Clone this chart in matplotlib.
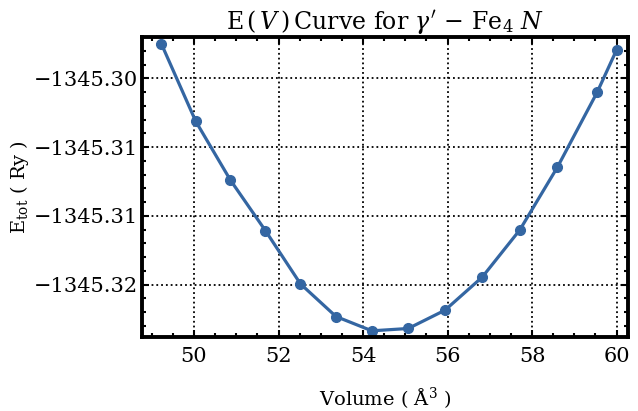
import matplotlib
matplotlib.use("Agg")
import matplotlib.pyplot as plt
from matplotlib.ticker import MultipleLocator, FuncFormatter

# volume (A^3) and total energy (Ry)
volume = [49.23, 50.04, 50.86, 51.69, 52.52, 53.36, 54.21,
          55.07, 55.94, 56.82, 57.71, 58.60, 59.54, 60.00]
energy = [-1345.29751, -1345.30312, -1345.30739, -1345.31107, -1345.31494,
          -1345.31731, -1345.31835, -1345.31818, -1345.31685, -1345.31445,
          -1345.31102, -1345.30646, -1345.30102, -1345.29794]

plt.rcParams['font.family'] = 'DejaVu Serif'
plt.rcParams['mathtext.fontset'] = 'dejavuserif'

fig = plt.figure(figsize=(6.38, 4.11), dpi=100)
ax = fig.add_axes([0.2226, 0.18, 0.7617, 0.73])

ax.plot(volume, energy, '-o', color='#3466a2', lw=2.3, ms=7)

ax.set_xlim(48.77, 60.27)
ax.set_ylim(-1345.3188, -1345.2970)
ax.xaxis.set_major_locator(MultipleLocator(2))
ax.xaxis.set_minor_locator(MultipleLocator(0.5))
ax.yaxis.set_major_locator(MultipleLocator(0.005))
ax.yaxis.set_minor_locator(MultipleLocator(0.001))
ax.yaxis.set_major_formatter(FuncFormatter(lambda v, p: ('%.2f' % v).replace('-', '\u2212')))

ax.tick_params(which='both', direction='in', top=True, right=True, labelsize=15)
ax.tick_params(which='major', length=5, width=1.5)
ax.tick_params(which='minor', length=3, width=1.5)
ax.tick_params(axis='y', pad=3)
ax.tick_params(axis='x', pad=7)
for s in ax.spines.values():
    s.set_linewidth(2.8)

ax.grid(True, which='major', color='black', linestyle=':', linewidth=1.3)

ax.set_title(r"E$\,(\,V\,)\,$Curve for $\gamma^{\prime}\,-\,\mathrm{Fe}_4\ N$", fontsize=17)
ax.set_xlabel(r"Volume ( $\mathrm{\AA}^3$ )", fontsize=14, labelpad=14)
ax.set_ylabel(r"E$_{\mathrm{tot}}$ ( Ry )", fontsize=14, labelpad=2)

fig.savefig('out.png', dpi=100)
